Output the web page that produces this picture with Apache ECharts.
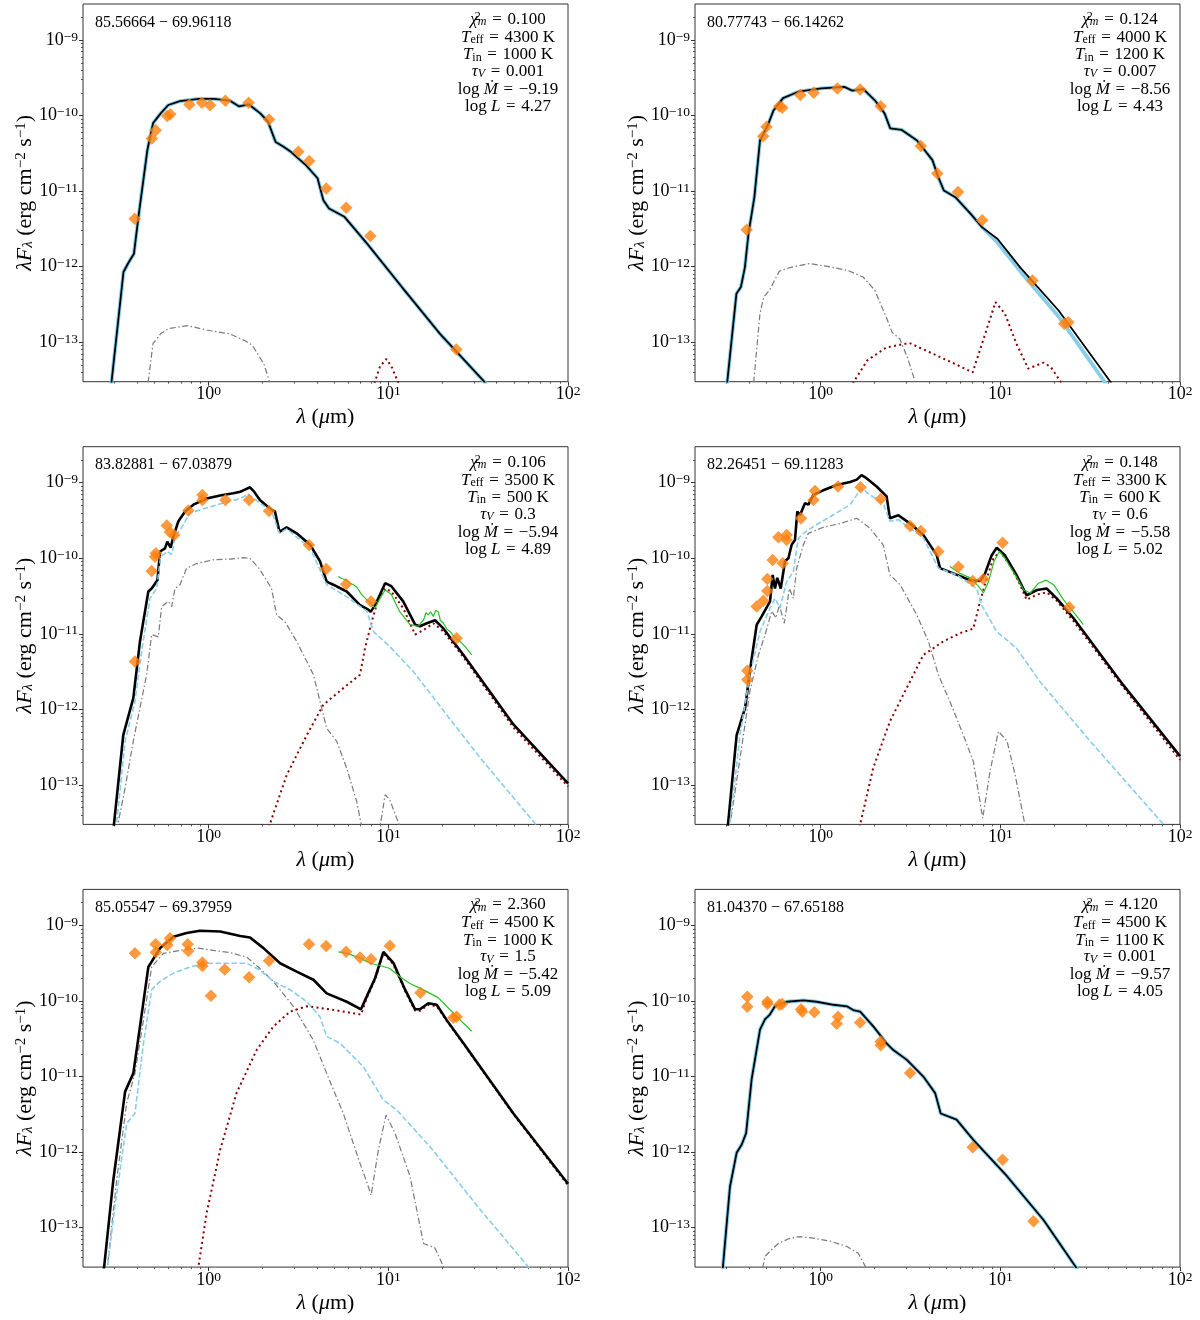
<!DOCTYPE html>
<html lang="en">
<head>
<meta charset="utf-8" />
<title>SED fits</title>
<style>
  html, body { margin: 0; background: #fff; }
  #chart { width: 1200px; height: 1320px; }
</style>
</head>
<body>
<div id="chart"></div>
<script src="https://cdn.jsdelivr.net/npm/echarts@6/dist/echarts.min.js"></script>
<script>
// wavelength in micron, lambda*F_lambda in erg cm^-2 s^-1
// ---- panel 1 ----
const p1Total = [[0.286,2.5e-14],[0.336,8.5e-13],[0.356,1.10e-12],[0.384,1.48e-12],[0.407,4.57e-12],[0.456,3.47e-11],[0.491,7.94e-11],[0.541,1.07e-10],[0.597,1.38e-10],[0.692,1.55e-10],[0.883,1.66e-10],[1.07,1.66e-10],[1.31,1.58e-10],[1.48,1.32e-10],[1.67,1.41e-10],[1.94,1.07e-10],[2.14,8.32e-11],[2.36,4.47e-11],[2.60,3.89e-11],[2.87,3.31e-11],[3.49,2.19e-11],[4.04,1.48e-11],[4.35,7.59e-12],[4.68,5.89e-12],[5.70,4.57e-12],[7.64,2.0e-12],[11.9,5.37e-13],[19.4,1.29e-13],[34.1,3.02e-14],[45,1.2e-14]];
const p1Star = p1Total; // indistinguishable at this scale
const p1Scat = [[0.452,2.0e-14],[0.49,9.55e-14],[0.54,1.29e-13],[0.597,1.51e-13],[0.762,1.66e-13],[0.975,1.45e-13],[1.31,1.29e-13],[1.59,1.05e-13],[1.75,9.12e-14],[2.03,5.13e-14],[2.24,2.5e-14],[2.4,1.5e-14]];
const p1Dust = [[7.8,1.8e-14],[8.43,3.0e-14],[9.0,4.8e-14],[9.77,6.0e-14],[10.5,4.6e-14],[11.3,3.0e-14],[12,1.8e-14]];
const p1Phot = [[0.388,4.32e-12],[0.483,4.97e-11],[0.508,6.41e-11],[0.588,9.9e-11],[0.612,1.04e-10],[0.782,1.40e-10],[0.918,1.48e-10],[1.02,1.37e-10],[1.24,1.57e-10],[1.67,1.48e-10],[2.17,8.87e-11],[3.16,3.31e-11],[3.63,2.51e-11],[4.52,1.08e-11],[5.83,6.04e-12],[7.94,2.55e-12],[23.9,8.0e-14]];

// ---- panel 2 ----
const p2Total = [[0.30,2.5e-14],[0.340,4.37e-13],[0.36,5.37e-13],[0.379,9.77e-13],[0.397,2.75e-12],[0.428,8.32e-12],[0.46,4.68e-11],[0.508,7.41e-11],[0.547,1.17e-10],[0.618,1.70e-10],[0.751,2.07e-10],[1.01,2.29e-10],[1.355,2.40e-10],[1.50,2.14e-10],[1.73,2.24e-10],[2.01,1.58e-10],[2.27,1.07e-10],[2.44,6.76e-11],[2.83,6.46e-11],[3.44,4.68e-11],[4.19,2.57e-11],[4.51,1.55e-11],[4.85,1.02e-11],[5.62,8.32e-12],[6.84,5.01e-12],[7.93,3.31e-12],[9.64,2.34e-12],[12.9,9.77e-13],[21.1,2.63e-13],[40.9,3.02e-14],[48,1.5e-14]];
const p2Star = [[0.30,2.5e-14],[0.340,4.37e-13],[0.36,5.37e-13],[0.379,9.77e-13],[0.397,2.75e-12],[0.428,8.32e-12],[0.46,4.68e-11],[0.508,7.41e-11],[0.547,1.17e-10],[0.618,1.70e-10],[0.751,2.07e-10],[1.01,2.29e-10],[1.355,2.40e-10],[1.50,2.14e-10],[1.73,2.24e-10],[2.01,1.58e-10],[2.27,1.07e-10],[2.44,6.76e-11],[2.83,6.46e-11],[3.44,4.68e-11],[4.19,2.57e-11],[4.51,1.55e-11],[4.85,1.02e-11],[5.62,8.32e-12],[6.84,5.01e-12],[7.93,3.31e-12],[9.64,2.09e-12],[12.9,8.71e-13],[21.1,2.19e-13],[38,3.0e-14],[45,1.5e-14]];
const p2Scat = [[0.418,2.0e-14],[0.46,2.40e-13],[0.483,3.98e-13],[0.52,4.90e-13],[0.589,8.71e-13],[0.682,9.77e-13],[0.871,1.10e-12],[1.11,1.0e-12],[1.42,8.91e-13],[1.73,7.24e-13],[2.00,4.90e-13],[2.32,2.14e-13],[2.50,1.35e-13],[2.76,1.10e-13],[3.04,6.31e-14],[3.44,2.5e-14],[3.7,1.5e-14]];
const p2Dust = [[1.4,1.8e-14],[1.53,3.0e-14],[1.82,5.75e-14],[2.32,8.51e-14],[3.12,9.77e-14],[4.19,7.08e-14],[5.62,5.13e-14],[7.02,3.98e-14],[9.40,3.39e-13],[10.6,2.40e-13],[12.3,9.55e-14],[14.3,4.47e-14],[17.4,5.37e-14],[19.1,4.68e-14],[21.7,3.0e-14],[23,1.8e-14]];
const p2Phot = [[0.388,3.09e-12],[0.479,5.33e-11],[0.500,7.1e-11],[0.589,1.33e-10],[0.612,1.27e-10],[0.771,1.87e-10],[0.915,2.0e-10],[1.24,2.29e-10],[1.66,2.22e-10],[2.16,1.33e-10],[3.61,3.97e-11],[4.46,1.71e-11],[5.82,9.75e-12],[7.93,4.1e-12],[15.1,6.58e-13],[22.7,1.75e-13],[23.9,1.84e-13]];

// ---- panel 3 ----
const p3Total = [[0.295,2.5e-14],[0.335,4.57e-13],[0.381,1.41e-12],[0.415,7.94e-12],[0.462,3.63e-11],[0.482,3.98e-11],[0.519,5.13e-11],[0.537,1.23e-10],[0.572,1.35e-10],[0.589,1.66e-10],[0.615,1.38e-10],[0.637,1.95e-10],[0.679,3.09e-10],[0.740,4.17e-10],[0.823,5.13e-10],[0.975,6.17e-10],[1.16,6.76e-10],[1.37,7.24e-10],[1.50,7.59e-10],[1.56,7.94e-10],[1.70,8.71e-10],[1.78,7.76e-10],[1.93,5.89e-10],[2.24,4.37e-10],[2.34,4.17e-10],[2.48,2.24e-10],[2.72,2.57e-10],[3.09,2.14e-10],[3.67,1.51e-10],[4.17,9.12e-11],[4.54,4.90e-11],[4.94,4.47e-11],[5.87,3.63e-11],[6.96,2.40e-11],[7.74,2.09e-11],[7.98,1.95e-11],[8.44,2.40e-11],[9.00,3.31e-11],[9.60,4.68e-11],[10.4,4.27e-11],[12.1,2.69e-11],[14.1,1.32e-11],[15.0,1.26e-11],[16.4,1.38e-11],[18.2,1.51e-11],[20.3,1.17e-11],[26.2,5.25e-12],[49.7,6.31e-13],[100,1.05e-13]];
const p3Star = [[0.305,2.5e-14],[0.343,3.80e-13],[0.389,1.26e-12],[0.424,5.89e-12],[0.472,2.95e-11],[0.514,3.98e-11],[0.541,1.05e-10],[0.589,1.23e-10],[0.623,1.12e-10],[0.65,1.86e-10],[0.708,2.57e-10],[0.787,3.98e-10],[0.895,4.37e-10],[1.16,5.25e-10],[1.50,6.17e-10],[1.66,7.08e-10],[1.93,5.37e-10],[2.24,4.17e-10],[2.48,2.14e-10],[2.72,2.45e-10],[3.67,1.38e-10],[4.54,4.47e-11],[5.87,3.09e-11],[7.59,2.0e-11],[8.27,1.07e-11],[10.2,6.76e-12],[13.8,3.16e-12],[21.1,8.51e-13],[32.4,2.29e-13],[67,2.9e-14],[75,1.5e-14]];
const p3Scat = [[0.308,2.5e-14],[0.343,9.12e-14],[0.381,3.80e-13],[0.452,2.88e-12],[0.482,9.77e-12],[0.525,9.12e-12],[0.548,2.29e-11],[0.597,2.69e-11],[0.623,2.29e-11],[0.65,3.98e-11],[0.693,4.47e-11],[0.755,7.41e-11],[0.859,8.51e-11],[1.06,9.55e-11],[1.32,9.77e-11],[1.56,1.02e-10],[1.70,1.0e-10],[1.93,7.08e-11],[2.24,3.98e-11],[2.39,1.78e-11],[2.66,1.45e-11],[3.09,7.94e-12],[3.83,2.88e-12],[4.54,5.62e-13],[5.16,3.80e-13],[5.87,1.66e-13],[6.67,6.03e-14],[7.11,2.8e-14],[8.0,5e-15],[9.0,2.8e-14],[9.6,7.41e-14],[10.2,6.31e-14],[11.6,2.8e-14],[12.5,1.2e-14]];
const p3Dust = [[2.1,2.0e-14],[2.19,3.0e-14],[2.72,1.35e-13],[3.52,4.57e-13],[4.35,1.15e-12],[5.62,1.91e-12],[6.96,2.88e-12],[7.42,6.46e-12],[8.09,1.45e-11],[8.81,2.95e-11],[9.60,3.98e-11],[10.4,3.63e-11],[12.1,2.19e-11],[14.1,9.77e-12],[15.7,1.12e-11],[17.8,1.38e-11],[20.3,1.07e-11],[26.2,4.90e-12],[49.7,5.75e-13],[100,9.55e-14]];
const p3Irs = [[5.27,5.75e-11],[5.5,5.4e-11],[5.87,5.13e-11],[6.1,4.7e-11],[6.40,4.47e-11],[6.7,4.1e-11],[7.11,3.31e-11],[7.5,2.9e-11],[7.92,2.57e-11],[8.44,2.19e-11],[9.00,2.95e-11],[9.60,3.80e-11],[10.4,3.31e-11],[11.6,1.95e-11],[13.2,1.32e-11],[14.7,1.26e-11],[15.2,1.4e-11],[15.7,1.51e-11],[16.2,1.9e-11],[16.7,1.78e-11],[17.2,1.95e-11],[17.8,1.70e-11],[18.4,2.05e-11],[19.0,1.95e-11],[19.5,1.5e-11],[20.3,1.38e-11],[21.2,1.15e-11],[22.1,1.07e-11],[23.5,8.9e-12],[25.1,7.94e-12],[27,6.6e-12],[29.1,5.25e-12]];
const p3Phot = [[0.389,4.3e-12],[0.482,6.8e-11],[0.503,1.05e-10],[0.509,1.17e-10],[0.585,2.71e-10],[0.61,2.21e-10],[0.644,2.04e-10],[0.771,4.28e-10],[0.923,6.89e-10],[0.923,5.91e-10],[1.24,5.91e-10],[1.68,5.91e-10],[2.17,4.24e-10],[3.62,1.50e-10],[4.51,7.2e-11],[5.82,4.54e-11],[8.01,2.67e-11],[24.0,8.75e-12]];

// ---- panel 4 ----
const p4Total = [[0.303,2.5e-14],[0.341,4.57e-13],[0.38,1.05e-12],[0.414,4.79e-12],[0.441,1.32e-11],[0.47,1.70e-11],[0.523,2.69e-11],[0.541,6.03e-11],[0.557,3.98e-11],[0.574,5.50e-11],[0.600,3.98e-11],[0.634,9.12e-11],[0.662,1.0e-10],[0.69,1.51e-10],[0.72,1.74e-10],[0.742,4.17e-10],[0.768,3.72e-10],[0.818,5.37e-10],[0.855,5.13e-10],[0.912,6.92e-10],[1.035,7.94e-10],[1.23,9.33e-10],[1.46,1.02e-9],[1.59,1.10e-9],[1.69,1.26e-9],[1.80,1.15e-9],[2.05,8.91e-10],[2.33,6.61e-10],[2.43,3.39e-10],[2.71,3.72e-10],[3.15,2.88e-10],[3.73,2.04e-10],[4.43,1.10e-10],[4.62,7.41e-11],[5.48,6.31e-11],[6.79,5.13e-11],[7.72,5.01e-11],[8.23,6.31e-11],[8.96,1.10e-10],[9.55,1.38e-10],[10.6,1.10e-10],[12.3,6.03e-11],[14.0,3.24e-11],[16.0,3.80e-11],[18.1,3.98e-11],[20.6,2.95e-11],[25.5,1.62e-11],[48.4,2.09e-12],[100,2.40e-13]];
const p4Star = [[0.31,2.5e-14],[0.356,4.57e-13],[0.404,2.88e-12],[0.46,1.07e-11],[0.523,2.19e-11],[0.557,2.95e-11],[0.594,2.19e-11],[0.647,4.90e-11],[0.705,6.61e-11],[0.751,1.82e-10],[0.802,2.14e-10],[0.912,2.63e-10],[1.13,3.55e-10],[1.46,5.13e-10],[1.69,8.51e-10],[1.88,6.92e-10],[2.23,5.37e-10],[2.43,3.09e-10],[2.71,3.24e-10],[3.73,1.86e-10],[4.52,7.41e-11],[5.71,6.03e-11],[7.39,3.98e-11],[7.87,2.40e-11],[9.55,1.07e-11],[12.3,6.46e-12],[16.6,2.34e-12],[31.6,3.80e-13],[80.9,3.0e-14],[90,1.8e-14]];
const p4Scat = [[0.31,2.5e-14],[0.356,2.24e-13],[0.404,1.74e-12],[0.451,5.25e-12],[0.491,9.77e-12],[0.535,2.0e-11],[0.565,1.62e-11],[0.589,2.40e-11],[0.628,1.38e-11],[0.67,3.98e-11],[0.705,2.95e-11],[0.736,7.41e-11],[0.802,1.51e-10],[0.855,2.14e-10],[1.035,2.57e-10],[1.28,2.88e-10],[1.59,3.39e-10],[1.88,2.51e-10],[2.23,1.51e-10],[2.43,6.03e-11],[2.77,4.47e-11],[3.43,1.78e-11],[3.98,7.94e-12],[4.52,2.88e-12],[5.25,1.26e-12],[6.23,4.57e-13],[7.08,2.04e-13],[7.98,3.63e-14],[8.77,1.51e-13],[9.76,5.13e-13],[10.9,3.80e-13],[12.1,1.35e-13],[13.7,3.0e-14],[14.5,1.5e-14]];
const p4Dust = [[1.6,2.0e-14],[1.66,3.0e-14],[1.96,1.66e-13],[2.43,6.92e-13],[3.01,1.91e-12],[3.73,5.25e-12],[4.82,7.94e-12],[5.97,1.02e-11],[7.08,1.17e-11],[7.72,2.69e-11],[8.41,5.50e-11],[9.16,1.0e-10],[9.98,1.23e-10],[11.3,8.13e-11],[12.9,4.47e-11],[14.0,2.82e-11],[16.0,3.31e-11],[18.1,3.55e-11],[20.6,2.75e-11],[25.5,1.48e-11],[48.4,1.95e-12],[100,2.14e-13]];
const p4Irs = [[5.25,7.76e-11],[5.97,6.31e-11],[6.79,5.50e-11],[7.55,4.27e-11],[8.06,3.47e-11],[8.59,4.90e-11],[9.23,9.12e-11],[9.89,1.23e-10],[10.6,1.0e-10],[12.1,6.03e-11],[13.5,3.80e-11],[14.7,3.47e-11],[16.3,4.68e-11],[18.0,5.13e-11],[19.8,4.47e-11],[22.5,2.82e-11],[25.5,1.95e-11],[29.0,1.32e-11]];
const p4Phot = [[0.391,3.24e-12],[0.391,2.46e-12],[0.441,2.30e-11],[0.480,2.73e-11],[0.505,3.70e-11],[0.505,5.33e-11],[0.541,9.5e-11],[0.615,8.6e-11],[0.582,1.90e-10],[0.647,2.04e-10],[0.647,1.75e-10],[0.778,3.39e-10],[0.912,5.9e-10],[0.931,7.8e-10],[1.25,8.9e-10],[1.67,8.7e-10],[2.16,6.1e-10],[3.15,2.68e-10],[3.61,2.30e-10],[4.52,1.23e-10],[5.85,7.7e-11],[7.02,5.0e-11],[8.05,5.3e-11],[10.3,1.61e-10],[24.2,2.25e-11]];

// ---- panel 5 ----
const p5Total = [[0.26,2.5e-14],[0.295,4.27e-13],[0.343,6.31e-12],[0.381,1.10e-11],[0.415,4.57e-11],[0.462,2.82e-10],[0.537,5.01e-10],[0.637,7.08e-10],[0.755,7.94e-10],[0.895,8.51e-10],[1.16,8.32e-10],[1.50,7.24e-10],[1.70,6.92e-10],[2.02,5.01e-10],[2.50,3.16e-10],[3.09,2.45e-10],[3.83,1.91e-10],[4.54,1.26e-10],[5.87,9.77e-11],[7.05,7.76e-11],[7.59,1.15e-10],[8.44,2.0e-10],[9.39,4.47e-10],[10.7,3.16e-10],[12.4,1.41e-10],[14.1,7.76e-11],[15.0,7.76e-11],[16.7,9.33e-11],[18.6,8.91e-11],[21.1,5.62e-11],[26.2,2.75e-11],[49.7,3.24e-12],[100,3.80e-13]];
const p5Star = [[0.271,2.5e-14],[0.301,1.91e-13],[0.35,2.40e-12],[0.389,3.24e-12],[0.434,2.75e-11],[0.482,1.41e-10],[0.537,1.82e-10],[0.637,2.34e-10],[0.789,2.82e-10],[0.975,3.16e-10],[1.63,3.16e-10],[1.93,2.57e-10],[2.29,1.82e-10],[2.84,1.41e-10],[3.52,9.77e-11],[4.17,6.17e-11],[4.54,3.39e-11],[5.39,2.75e-11],[7.26,1.35e-11],[9.39,4.90e-12],[11.1,3.63e-12],[17.1,1.17e-12],[32.4,1.74e-13],[60.3,3.0e-14],[70,1.5e-14]];
const p5Scat = [[0.271,2.5e-14],[0.308,4.27e-13],[0.35,4.47e-12],[0.389,1.10e-11],[0.434,5.62e-11],[0.482,2.82e-10],[0.56,4.27e-10],[0.693,4.68e-10],[0.877,5.01e-10],[1.06,4.68e-10],[1.32,4.37e-10],[1.63,3.80e-10],[1.93,2.69e-10],[2.29,1.82e-10],[2.96,8.51e-11],[3.83,3.02e-11],[4.65,9.55e-12],[5.62,3.24e-12],[6.96,7.08e-13],[7.52,4.27e-13],[8.02,2.69e-13],[8.81,1.07e-12],[9.71,3.09e-12],[10.9,1.78e-12],[13.2,4.79e-13],[15.7,6.17e-14],[18.2,5.37e-14],[20.3,3.0e-14],[21.5,1.5e-14]];
const p5Dust = [[0.85,2.0e-14],[0.877,3.0e-14],[0.975,1.55e-13],[1.16,1.07e-12],[1.43,6.03e-12],[1.85,2.24e-11],[2.29,4.57e-11],[2.84,7.24e-11],[3.52,8.51e-11],[4.74,7.76e-11],[7.05,6.61e-11],[7.59,1.10e-10],[8.44,1.91e-10],[9.39,4.27e-10],[10.7,3.02e-10],[12.4,1.35e-10],[14.1,7.41e-11],[15.0,7.41e-11],[16.7,8.91e-11],[18.6,8.51e-11],[21.1,5.50e-11],[26.2,2.69e-11],[49.7,3.16e-12],[100,3.63e-13]];
const p5Irs = [[5.27,4.47e-10],[5.87,4.27e-10],[6.96,3.72e-10],[7.92,3.16e-10],[9.00,2.95e-10],[10.2,2.69e-10],[11.6,2.09e-10],[13.2,1.70e-10],[15.0,1.48e-10],[17.1,1.26e-10],[19.0,1.10e-10],[21.1,8.51e-11],[25.1,5.62e-11],[29.1,3.98e-11]];
const p5Phot = [[0.389,4.28e-10],[0.507,5.62e-10],[0.509,4.41e-10],[0.589,5.5e-10],[0.610,6.76e-10],[0.765,5.62e-10],[0.771,4.59e-10],[0.923,3.22e-10],[0.923,2.91e-10],[1.03,1.17e-10],[1.23,2.62e-10],[1.68,2.06e-10],[2.17,3.42e-10],[3.62,5.62e-10],[4.51,5.35e-10],[5.82,4.5e-10],[6.96,3.75e-10],[8.02,3.56e-10],[10.2,5.4e-10],[15.1,1.29e-10],[23.0,6.0e-11],[24.0,6.2e-11]];

// ---- panel 6 ----
const p6Total = [[0.284,2.5e-14],[0.313,3.47e-13],[0.341,9.77e-13],[0.364,1.26e-12],[0.385,1.78e-12],[0.413,9.12e-12],[0.46,4.17e-11],[0.491,5.75e-11],[0.522,6.61e-11],[0.557,8.51e-11],[0.647,9.77e-11],[0.802,1.02e-10],[0.951,9.77e-11],[1.18,8.91e-11],[1.40,8.51e-11],[1.52,7.59e-11],[1.66,7.24e-11],[1.97,4.57e-11],[2.33,2.75e-11],[2.54,2.24e-11],[3.02,1.66e-11],[3.73,1.0e-11],[4.34,6.03e-12],[4.66,3.24e-12],[5.71,2.69e-12],[7.08,1.45e-12],[10.9,4.79e-13],[17.4,1.26e-13],[26.6,2.9e-14],[30,1.6e-14]];
const p6Star = p6Total; // indistinguishable at this scale
const p6Scat = [[0.46,2.0e-14],[0.491,4.17e-14],[0.535,5.13e-14],[0.582,6.17e-14],[0.676,7.24e-14],[0.768,7.59e-14],[0.912,7.24e-14],[1.13,6.61e-14],[1.40,5.62e-14],[1.62,4.57e-14],[1.77,3.09e-14],[1.85,2.0e-14]];
const p6Phot = [[0.391,1.14e-10],[0.391,8.4e-11],[0.506,9.8e-11],[0.506,9.1e-11],[0.589,8.9e-11],[0.61,9.1e-11],[0.778,7.8e-11],[0.791,7.2e-11],[0.923,7.1e-11],[1.25,6.2e-11],[1.23,5.0e-11],[1.66,5.2e-11],[2.16,2.9e-11],[2.16,2.6e-11],[3.15,1.11e-11],[7.02,1.16e-12],[10.3,7.9e-13],[15.3,1.21e-13]];

// fit parameters per panel
const raDeg   = [85.56664, 80.77743, 83.82881, 82.26451, 85.05547, 81.04370];
const decDeg  = [-69.96118, -66.14262, -67.03879, -69.11283, -69.37959, -67.65188];
const chiSq   = [0.100, 0.124, 0.106, 0.148, 2.360, 4.120];
const tEff    = [4300, 4000, 3500, 3300, 4500, 4500];
const tIn     = [1000, 1200, 500, 600, 1000, 1100];
const tauV    = ['0.001', '0.007', '0.3', '0.6', '1.5', '0.001'];
const logMdot = [-9.19, -8.56, -5.94, -5.58, -5.42, -9.57];
const logLum  = [4.27, 4.43, 4.89, 5.02, 5.09, 4.05];

// axis ticks (exponents)
const xMajor = [0, 1, 2];
const yMajor = [-13, -12, -11, -10, -9];

const panels = [
  { total: p1Total, star: p1Star, scat: p1Scat, dust: p1Dust, irs: null,  phot: p1Phot, halo: true },
  { total: p2Total, star: p2Star, scat: p2Scat, dust: p2Dust, irs: null,  phot: p2Phot, halo: true },
  { total: p3Total, star: p3Star, scat: p3Scat, dust: p3Dust, irs: p3Irs, phot: p3Phot, halo: false },
  { total: p4Total, star: p4Star, scat: p4Scat, dust: p4Dust, irs: p4Irs, phot: p4Phot, halo: false },
  { total: p5Total, star: p5Star, scat: p5Scat, dust: p5Dust, irs: p5Irs, phot: p5Phot, halo: false },
  { total: p6Total, star: p6Star, scat: p6Scat, dust: null,   irs: null,  phot: p6Phot, halo: true }
];

// ---- layout / style ----
const SERIF = '"Liberation Serif", "DejaVu Serif", serif';
const AX = '#333';
const X_MIN = 0.2, X_MAX = 100, Y_MIN = 3e-14, Y_MAX = 3e-9;
const COL_LEFT = [83, 695];
const ROW_TOP = [4, 446.7, 889.4];
const PW = 485, PH = 377.7;
const LINE_Y = [15.5, 33.5, 51, 67.5, 85.5, 102.5];
const EQ = '\u2004=\u2004';

const lg = Math.log10;
const toLog = arr => arr.map(([x, y]) => [lg(x), lg(y)]);
const minus = s => String(s).replace('-', '\u2212');
const expText = v => minus(Math.round(v));

function minorLogs(lo, hi) {
  const out = [];
  for (let e = Math.floor(lg(lo)) - 1; e <= Math.ceil(lg(hi)); e++) {
    for (let m = 2; m <= 9; m++) {
      const v = m * Math.pow(10, e);
      if (v > lo * 1.001 && v < hi * 0.999) out.push(lg(v));
    }
  }
  return out;
}
const xMinor = minorLogs(X_MIN, X_MAX);
const yMinor = minorLogs(Y_MIN, Y_MAX);

const tickRich = {
  b: { fontFamily: SERIF, fontSize: 18, color: '#000', lineHeight: 20 },
  s: { fontFamily: SERIF, fontSize: 13.5, color: '#000', lineHeight: 13, verticalAlign: 'top', padding: [0, 0, 10, 0] }
};
const nameRich = {
  i: { fontFamily: SERIF, fontSize: 22, fontStyle: 'italic', color: '#000', lineHeight: 22 },
  r: { fontFamily: SERIF, fontSize: 22, color: '#000', lineHeight: 22 },
  subi: { fontFamily: SERIF, fontSize: 15, fontStyle: 'italic', color: '#000', lineHeight: 15, verticalAlign: 'bottom', padding: [11, 0, 0, 0] },
  sup: { fontFamily: SERIF, fontSize: 15, color: '#000', lineHeight: 15, verticalAlign: 'top', padding: [0, 0, 11, 0] }
};
const noteRich = {
  r: { fontFamily: SERIF, fontSize: 17, fill: '#000', lineHeight: 17 },
  i: { fontFamily: SERIF, fontSize: 17, fontStyle: 'italic', fill: '#000', lineHeight: 17 },
  sub: { fontFamily: SERIF, fontSize: 12, fill: '#000', lineHeight: 12, verticalAlign: 'bottom', padding: [8, 0, 0, 0] },
  subi: { fontFamily: SERIF, fontSize: 12, fontStyle: 'italic', fill: '#000', lineHeight: 12, verticalAlign: 'bottom', padding: [8, 0, 0, 0] },
  sup: { fontFamily: SERIF, fontSize: 12, fill: '#000', lineHeight: 12, verticalAlign: 'top', padding: [0, 0, 8, 0], width: 0.1 }
};

const grids = [], xAxes = [], yAxes = [], series = [], notes = [];

panels.forEach((p, i) => {
  const L = COL_LEFT[i % 2], T = ROW_TOP[Math.floor(i / 2)], R = L + PW;
  grids.push({ left: L, top: T, width: PW, height: PH, show: true, borderColor: AX, borderWidth: 1,
               backgroundColor: 'transparent', outerBoundsMode: 'none' });

  const xb = { gridIndex: i, type: 'value', position: 'bottom', min: lg(X_MIN), max: lg(X_MAX),
               axisLine: { show: false, onZero: false }, splitLine: { show: false } };
  xAxes.push({ ...xb,
    axisTick: { customValues: xMajor, length: 4, lineStyle: { color: AX, width: 1 } },
    axisLabel: { customValues: xMajor, margin: 3, formatter: v => `{b|10}{s|${expText(v)}}`, rich: tickRich },
    name: '{i|λ}{r| (}{i|μ}{r|m)}', nameLocation: 'middle', nameGap: 25, nameMoveOverlap: false,
    nameTextStyle: { fontFamily: SERIF, fontSize: 22, color: '#000', rich: nameRich } });
  xAxes.push({ ...xb,
    axisTick: { customValues: xMinor, length: 2, lineStyle: { color: AX, width: 0.8 } },
    axisLabel: { show: false } });

  const yb = { gridIndex: i, type: 'value', position: 'left', min: lg(Y_MIN), max: lg(Y_MAX),
               axisLine: { show: false, onZero: false }, splitLine: { show: false } };
  yAxes.push({ ...yb,
    axisTick: { customValues: yMajor, length: 4, lineStyle: { color: AX, width: 1 } },
    axisLabel: { customValues: yMajor, margin: 5, formatter: v => `{b|10}{s|${expText(v)}}`, rich: tickRich },
    name: '{i|λF}{subi|λ}{r| (erg cm}{sup|−2}{r| s}{sup|−1}{r|)}', nameLocation: 'middle', nameGap: 47,
    nameMoveOverlap: false, nameTextStyle: { fontFamily: SERIF, fontSize: 22, color: '#000', rich: nameRich } });
  yAxes.push({ ...yb,
    axisTick: { customValues: yMinor, length: 2, lineStyle: { color: AX, width: 0.8 } },
    axisLabel: { show: false } });

  const line = (data, style, z) => ({
    type: 'line', xAxisIndex: 2 * i, yAxisIndex: 2 * i, data: toLog(data), symbol: 'none', showSymbol: false,
    silent: true, clip: true, z, lineStyle: style
  });
  series.push(line(p.scat, { color: '#7a7a7a', width: 1.2, type: [6, 2.5, 1.5, 2.5] }, 2));
  if (p.dust) series.push(line(p.dust, { color: '#8b0000', width: 2, type: [2, 3.3] }, 3));
  if (p.halo) {
    series.push(line(p.star, { color: '#87ceeb', width: 3.8, type: 'solid' }, 4));
    series.push(line(p.total, { color: '#000', width: 1.8, type: 'solid' }, 5));
  } else {
    series.push(line(p.total, { color: '#000', width: 2.6, type: 'solid' }, 4));
    series.push(line(p.star, { color: '#87ceeb', width: 1.6, type: [5.5, 2.5] }, 5));
  }
  if (p.irs) series.push(line(p.irs, { color: '#2abf2a', width: 1.2, type: 'solid' }, 6));
  series.push({ type: 'scatter', xAxisIndex: 2 * i, yAxisIndex: 2 * i, data: toLog(p.phot),
    symbol: 'diamond', symbolSize: 12.5, itemStyle: { color: '#ff7f0e' }, silent: true, z: 10 });

  // annotations
  notes.push({ type: 'text', x: L + 12, y: T + 18.5, silent: true, z: 100,
    style: { text: `${raDeg[i].toFixed(5)} \u2212 ${Math.abs(decDeg[i]).toFixed(5)}`,
             fontFamily: SERIF, fontSize: 16, fill: '#000', align: 'left', verticalAlign: 'middle' } });
  const rows = [
    `{i|χ}{sup|2}{subi|m}{r|${EQ}${chiSq[i].toFixed(3)}}`,
    `{i|T}{sub|eff}{r|${EQ}${tEff[i]} K}`,
    `{i|T}{sub|in}{r|${EQ}${tIn[i]} K}`,
    `{i|τ}{subi|V}{r|${EQ}${tauV[i]}}`,
    `{r|log }{i|Ṁ}{r|${EQ}${minus(logMdot[i].toFixed(2))}}`,
    `{r|log }{i|L}{r|${EQ}${logLum[i].toFixed(2)}}`
  ];
  rows.forEach((t, k) => notes.push({ type: 'text', x: R - 60, y: T + LINE_Y[k], silent: true, z: 100,
    style: { text: t, rich: noteRich, fontFamily: SERIF, fontSize: 17, fill: '#000', align: 'center', verticalAlign: 'middle' } }));
});

const chart = echarts.init(document.getElementById('chart'), null, { renderer: 'canvas' });
chart.setOption({
  animation: false,
  backgroundColor: '#fff',
  textStyle: { fontFamily: SERIF },
  grid: grids,
  xAxis: xAxes,
  yAxis: yAxes,
  series: series,
  graphic: { elements: notes }
});
</script>
</body>
</html>
